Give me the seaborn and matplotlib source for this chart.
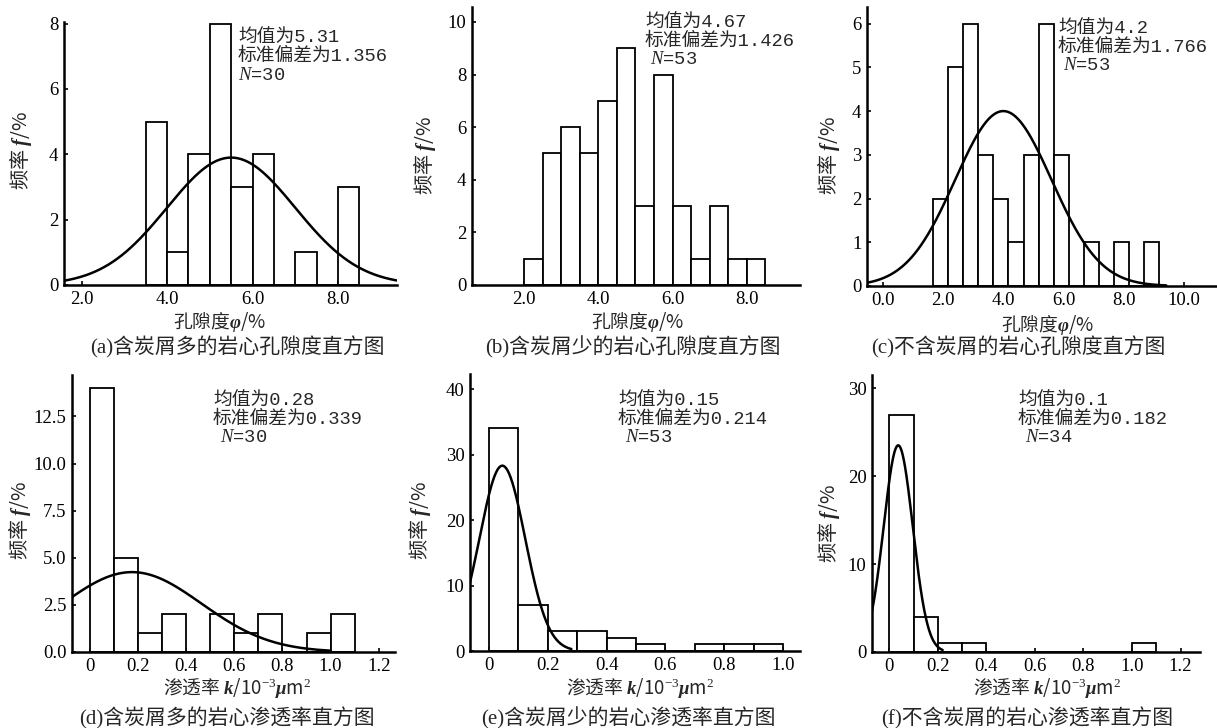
import numpy as np
import pandas as pd
import matplotlib
matplotlib.use("Agg")
import matplotlib.pyplot as plt
import seaborn as sns

# 数据
# 孔隙度直方图: 分箱边界 + 频数
a_edges = [3.5, 4.0, 4.5, 5.0, 5.5, 6.0, 6.5, 7.0, 7.5, 8.0, 8.5]
a_counts = [5, 1, 4, 8, 3, 4, 0, 1, 0, 3]
b_edges = [2.0, 2.5, 3.0, 3.5, 4.0, 4.5, 5.0, 5.5, 6.0, 6.5, 7.0, 7.5, 8.0, 8.5]
b_counts = [1, 5, 6, 5, 7, 9, 3, 8, 3, 1, 3, 1, 1]
c_edges = [1.67, 2.17, 2.67, 3.17, 3.67, 4.17, 4.67, 5.17, 5.67, 6.17, 6.67,
           7.17, 7.67, 8.17, 8.67, 9.17]
c_counts = [2, 5, 6, 3, 2, 1, 3, 6, 3, 0, 1, 0, 1, 0, 1]
# 渗透率直方图
d_edges = [0.0, 0.1, 0.2, 0.3, 0.4, 0.5, 0.6, 0.7, 0.8, 0.9, 1.0, 1.1]
d_counts = [14, 5, 1, 2, 0, 2, 1, 2, 0, 1, 2]
e_edges = [0.0, 0.1, 0.2, 0.3, 0.4, 0.5, 0.6, 0.7, 0.8, 0.9, 1.0]
e_counts = [34, 7, 3, 3, 2, 1, 0, 1, 1, 1]
f_edges = [0.0, 0.1, 0.2, 0.3, 0.4, 0.5, 0.6, 0.7, 0.8, 0.9, 1.0, 1.1]
f_counts = [27, 4, 1, 1, 0, 0, 0, 0, 0, 0, 1]

# 正态拟合曲线 (中心, 宽度, 峰值, 起点, 终点) —— 从图中估计
a_curve = (5.5, 1.5, 3.9, 1.59, 9.38)
b_curve = None
c_curve = (4.0, 1.6, 4.0, -0.52, 9.4)
d_curve = (0.176, 0.288, 4.24, -0.073, 1.0)
e_curve = (0.045, 0.078, 28.3, -0.065, 0.28)
f_curve = (0.037, 0.06, 23.5, -0.071, 0.22)

# 统计注释
a_stats = ["5.31", "1.356", "30"]
b_stats = ["4.67", "1.426", "53"]
c_stats = ["4.2", "1.766", "53"]
d_stats = ["0.28", "0.339", "30"]
e_stats = ["0.15", "0.214", "53"]
f_stats = ["0.1", "0.182", "34"]

captions = ["(a)含炭屑多的岩心孔隙度直方图", "(b)含炭屑少的岩心孔隙度直方图",
            "(c)不含炭屑的岩心孔隙度直方图", "(d)含炭屑多的岩心渗透率直方图",
            "(e)含炭屑少的岩心渗透率直方图", "(f)不含炭屑的岩心渗透率直方图"]

a_xticks = [2.0, 4.0, 6.0, 8.0]
b_xticks = [2.0, 4.0, 6.0, 8.0]
c_xticks = [0.0, 2.0, 4.0, 6.0, 8.0, 10.0]
d_xticks = [0, 0.2, 0.4, 0.6, 0.8, 1.0, 1.2]
e_xticks = [0, 0.2, 0.4, 0.6, 0.8, 1.0]
f_xticks = [0, 0.2, 0.4, 0.6, 0.8, 1.0, 1.2]
a_yticks = [0, 2, 4, 6, 8]
b_yticks = [0, 2, 4, 6, 8, 10]
c_yticks = [0, 1, 2, 3, 4, 5, 6]
d_yticks = [0.0, 2.5, 5.0, 7.5, 10.0, 12.5]
e_yticks = [0, 10, 20, 30, 40]
f_yticks = [0, 10, 20, 30]

sns.set_theme(style="ticks")
plt.rcParams["font.family"] = ["Liberation Serif", "Noto Sans CJK SC", "DejaVu Sans"]
plt.rcParams["mathtext.fontset"] = "custom"
plt.rcParams["mathtext.rm"] = "Liberation Serif"
plt.rcParams["mathtext.it"] = "Liberation Serif:italic"
plt.rcParams["mathtext.bf"] = "Liberation Serif:italic:bold"

W, H = 1217, 728
fig = plt.figure(figsize=(W / 100, H / 100), dpi=100)

phi_label = "孔隙度$\\mathbf{\\varphi}$/%"
k_label = "渗透率 $\\mathbf{k}$/10$^{-3}$$\\mathbf{\\mu}$m$^{2}$"
f_label = "频率 $\\mathbf{f}$/%"


def kfmt(v):
    return "0" if v == 0 else "{:.1f}".format(v)


def pfmt(v):
    return "{:.1f}".format(v)


def ifmt(v):
    return "{:g}".format(v)


# 版面 (像素): 轴框 left, right, top, bottom; 坐标范围; 标签位置
panels = [
    dict(edges=a_edges, counts=a_counts, curve=a_curve, stats=a_stats,
         xt=a_xticks, yt=a_yticks, fmt=pfmt, yfmt=ifmt,
         box=(64, 397, 22, 285), xlim=(1.59, 9.38), ylim=(0, 8.05),
         xlab=phi_label, xlab_pos=(220, 322), ylab_pos=(20, 150),
         cap_pos=(237, 347), txt=(238, 37), npos=238),
    dict(edges=b_edges, counts=b_counts, curve=b_curve, stats=b_stats,
         xt=b_xticks, yt=b_yticks, fmt=pfmt, yfmt=ifmt,
         box=(472, 800, 7, 285), xlim=(0.59, 9.44), ylim=(0, 10.57),
         xlab=phi_label, xlab_pos=(638, 322), ylab_pos=(425, 155),
         cap_pos=(633, 347), txt=(645, 22), npos=650),
    dict(edges=c_edges, counts=c_counts, curve=c_curve, stats=c_stats,
         xt=c_xticks, yt=c_yticks, fmt=pfmt, yfmt=ifmt,
         box=(867, 1216, 7, 286), xlim=(-0.52, 11.05), ylim=(0, 6.38),
         xlab=phi_label, xlab_pos=(1048, 325), ylab_pos=(828, 155),
         cap_pos=(1018, 347), txt=(1058, 28), npos=1063),
    dict(edges=d_edges, counts=d_counts, curve=d_curve, stats=d_stats,
         xt=d_xticks, yt=d_yticks, fmt=kfmt, yfmt=pfmt,
         box=(72, 395, 375, 652), xlim=(-0.073, 1.267), ylim=(0, 14.7),
         xlab=k_label, xlab_pos=(237, 688), ylab_pos=(20, 520),
         cap_pos=(227, 718), txt=(213, 400), npos=220),
    dict(edges=e_edges, counts=e_counts, curve=e_curve, stats=e_stats,
         xt=e_xticks, yt=e_yticks, fmt=kfmt, yfmt=ifmt,
         box=(470, 800, 374, 651), xlim=(-0.065, 1.058), ylim=(0, 42.3),
         xlab=k_label, xlab_pos=(640, 688), ylab_pos=(420, 520),
         cap_pos=(628, 718), txt=(618, 400), npos=625),
    dict(edges=f_edges, counts=f_counts, curve=f_curve, stats=f_stats,
         xt=f_xticks, yt=f_yticks, fmt=kfmt, yfmt=ifmt,
         box=(872, 1200, 375, 652), xlim=(-0.071, 1.28), ylim=(0, 31.5),
         xlab=k_label, xlab_pos=(1047, 688), ylab_pos=(828, 523),
         cap_pos=(1027, 718), txt=(1018, 400), npos=1025),
]

mono = ["Liberation Mono", "Noto Sans CJK SC"]
cjk = "Noto Sans CJK SC"

for i, p in enumerate(panels):
    l, r, t, b = p["box"]
    ax = fig.add_axes([l / W, 1 - b / H, (r - l) / W, (b - t) / H])
    edges = p["edges"]
    df = pd.DataFrame({
        "mid": [(edges[k] + edges[k + 1]) / 2 for k in range(len(edges) - 1)],
        "n": p["counts"],
    })
    sns.histplot(data=df, x="mid", weights="n", bins=list(edges), ax=ax,
                 color="white", edgecolor="black", linewidth=1.3, alpha=1)
    if p["curve"] is not None:
        c, s, pk, x0, x1 = p["curve"]
        xs = np.linspace(x0, x1, 300)
        ys = pk * np.exp(-(xs - c) ** 2 / (2 * s ** 2))
        sns.lineplot(x=xs, y=ys, ax=ax, color="black", linewidth=1.8)
    ax.set_xlim(*p["xlim"])
    ax.set_ylim(*p["ylim"])
    ax.set_xticks(p["xt"])
    ax.set_xticklabels([p["fmt"](v) for v in p["xt"]])
    ax.set_yticks(p["yt"])
    ax.set_yticklabels([p["yfmt"](v) for v in p["yt"]])
    ax.tick_params(direction="in", length=3, width=1.2, labelsize=13.5,
                   colors="black", pad=4)
    for sp in ["top", "right"]:
        ax.spines[sp].set_visible(False)
    for sp in ["left", "bottom"]:
        ax.spines[sp].set_linewidth(1.8)
        ax.spines[sp].set_color("black")
    ax.set_facecolor("none")

    # 轴标签 (混排数学文本时, 非数学部分用 CJK 字体)
    ax.set_xlabel(p["xlab"], fontsize=13.5, family=cjk)
    ax.set_ylabel(f_label, fontsize=14.5, family=cjk)
    xl, yl = p["xlab_pos"]
    ax.xaxis.set_label_coords((xl - l) / (r - l), (b - yl) / (b - t))
    ax.xaxis.label.set_va("center")
    xl, yl = p["ylab_pos"]
    ax.yaxis.set_label_coords((xl - l) / (r - l), (b - yl) / (b - t))
    ax.yaxis.label.set_va("center")

    # 注释
    tx, ty = p["txt"]
    mean, sd, n = p["stats"]
    fig.text(tx / W, 1 - ty / H, "均值为" + mean, family=mono, fontsize=13.5,
             va="center", ha="left")
    fig.text(tx / W, 1 - (ty + 19) / H, "标准偏差为" + sd, family=mono,
             fontsize=13.5, va="center", ha="left")
    fig.text(p["npos"] / W, 1 - (ty + 38) / H, "$N$=" + n, family=mono,
             fontsize=13.5, va="center", ha="left")

    cx, cy = p["cap_pos"]
    fig.text(cx / W, 1 - cy / H, captions[i], fontsize=15, ha="center",
             va="center", family=["Liberation Serif", "Noto Sans CJK SC"])

fig.savefig("out.png", dpi=100, facecolor="white")
